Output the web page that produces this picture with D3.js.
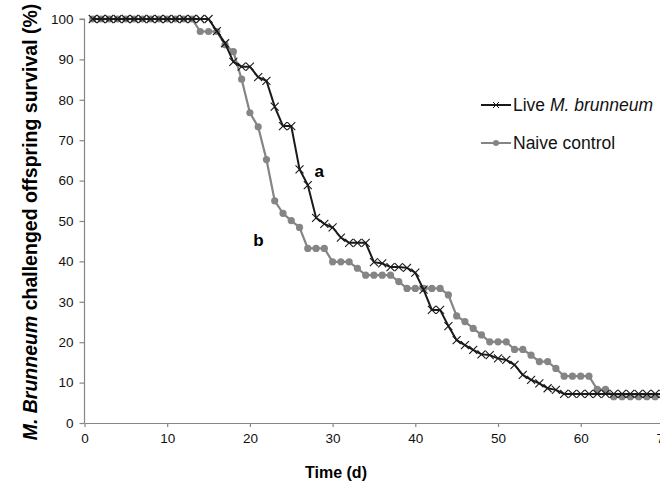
<!DOCTYPE html>
<html>
<head>
<meta charset="utf-8">
<script src="https://cdn.jsdelivr.net/npm/d3@7"></script>
<style>
  html, body { margin: 0; padding: 0; background: #fff; }
  svg { display: block; font-family: "Liberation Sans", Arial, sans-serif; }
</style>
</head>
<body>
<svg id="chart" width="660" height="484"></svg>
<script>
// Days 1..70
const days = d3.range(1, 71);
const liveValues = [
  100,100,100,100,100,100,100,100,100,100,
  100,100,100,100,100, 97, 94, 89.4, 88.2, 88.2,
  85.6, 84.7, 78.3, 73.5, 73.5, 62.8, 58.9, 50.8, 49.3, 48.4,
  45.9, 44.6, 44.6, 44.6, 39.8, 39.5, 38.6, 38.6, 38.4, 37.2,
  33, 28, 28, 24, 20.5, 19.3, 18.1, 17, 16.8, 16,
  15.6, 14.4, 11.9, 10.7, 9.8, 8.6, 8.2, 7.2, 7.2, 7.2,
  7.2, 7.2, 7.2, 7.2, 7.2, 7.2, 7.2, 7.2, 7.2, 7.2
];
const naiveValues = [
  100,100,100,100,100,100,100,100,100,100,
  100,100,100, 96.9, 96.9, 96.9, 93.6, 91.9, 85.1, 76.8,
  73.3, 65.2, 55, 51.9, 50.1, 48.4, 43.2, 43.2, 43.2, 39.9,
  39.9, 39.9, 38.3, 36.6, 36.6, 36.6, 36.6, 35, 33.3, 33.3,
  33.3, 33.3, 33.3, 31.7, 26.5, 25.1, 23.4, 21.8, 20.1, 20.1,
  20.1, 18.2, 18.2, 16.8, 15.2, 15.2, 13.5, 11.6, 11.6, 11.6,
  11.6, 8.3, 8.3, 6.5, 6.5, 6.5, 6.5, 6.5, 6.5, 6.5
];
const xTicks = [0, 10, 20, 30, 40, 50, 60, 70];
const yTicks = [0, 10, 20, 30, 40, 50, 60, 70, 80, 90, 100];

const svg = d3.select("#chart");
const x = d3.scaleLinear().domain([0, 70]).range([84.5, 663.4]);
const y = d3.scaleLinear().domain([0, 100]).range([423, 19]);
const axisColor = "#868686";

// Y axis
const yAxis = svg.append("g")
  .attr("transform", `translate(${x(0)},0)`)
  .call(d3.axisLeft(y).tickValues(yTicks).tickSize(5).tickPadding(6));
// X axis
const xAxis = svg.append("g")
  .attr("transform", `translate(0,${y(0)})`)
  .call(d3.axisBottom(x).tickValues(xTicks).tickSize(4).tickSizeOuter(0).tickPadding(6));
[yAxis, xAxis].forEach(g => {
  g.select(".domain").attr("stroke", axisColor).attr("stroke-width", 1.2);
  g.selectAll(".tick line").attr("stroke", axisColor).attr("stroke-width", 1.2);
  g.selectAll(".tick text").attr("fill", "#111").style("font-size", "13.5px")
    .style("font-family", '"Liberation Sans", Arial, sans-serif');
});
yAxis.select(".domain").attr("d", `M-5,${y(100)}H0V${y(0)}`);

const liveColor = "#1a1a1a";
const naiveColor = "#858585";
const liveData = days.map((d, i) => ({ d, v: liveValues[i] }));
const naiveData = days.map((d, i) => ({ d, v: naiveValues[i] }));
const line = d3.line().x(p => x(p.d)).y(p => y(p.v));

// Naive control (grey circles)
svg.append("path").datum(naiveData).attr("fill", "none")
  .attr("stroke", naiveColor).attr("stroke-width", 2.2).attr("d", line);
svg.append("g").selectAll("circle").data(naiveData).join("circle")
  .attr("cx", p => x(p.d)).attr("cy", p => y(p.v)).attr("r", 3.6)
  .attr("fill", naiveColor);

// Live M. brunneum (black crosses)
svg.append("path").datum(liveData).attr("fill", "none")
  .attr("stroke", liveColor).attr("stroke-width", 2).attr("d", line);
const cs = 4;
svg.append("g").selectAll("path").data(liveData).join("path")
  .attr("d", p => {
    const cx = x(p.d), cy = y(p.v);
    return `M${cx - cs},${cy - cs}L${cx + cs},${cy + cs}M${cx - cs},${cy + cs}L${cx + cs},${cy - cs}`;
  })
  .attr("stroke", liveColor).attr("stroke-width", 1.1).attr("fill", "none");

// Labels a / b
svg.append("text").attr("x", x(27.8)).attr("y", y(60.8)).text("a")
  .style("font-weight", "bold").style("font-size", "17px");
svg.append("text").attr("x", x(20.4)).attr("y", y(43.7)).text("b")
  .style("font-weight", "bold").style("font-size", "17px");

// Legend
const legend = [
  { label: ["Live ", "M. brunneum"], color: liveColor, type: "x", ly: 105 },
  { label: ["Naive control"], color: naiveColor, type: "o", ly: 143 }
];
legend.forEach(l => {
  svg.append("line").attr("x1", 481).attr("x2", 511).attr("y1", l.ly).attr("y2", l.ly)
    .attr("stroke", l.color).attr("stroke-width", 2);
  if (l.type === "x") {
    svg.append("path").attr("d", `M${496 - 3},${l.ly - 3}L${496 + 3},${l.ly + 3}M${496 - 3},${l.ly + 3}L${496 + 3},${l.ly - 3}`)
      .attr("stroke", l.color).attr("stroke-width", 1);
  } else {
    svg.append("circle").attr("cx", 496).attr("cy", l.ly).attr("r", 3).attr("fill", l.color);
  }
  const t = svg.append("text").attr("x", 513).attr("y", l.ly + 6).style("font-size", "17.5px").attr("fill", "#111");
  t.append("tspan").text(l.label[0]);
  if (l.label[1]) t.append("tspan").style("font-style", "italic").text(l.label[1]);
});

// Axis titles
svg.append("text").attr("x", 336).attr("y", 478).attr("text-anchor", "middle")
  .style("font-weight", "bold").style("font-size", "16px").text("Time (d)");
const yt = svg.append("text").attr("transform", `translate(37,222) rotate(-90)`)
  .attr("text-anchor", "middle").style("font-weight", "bold").style("font-size", "19.5px");
yt.append("tspan").style("font-style", "italic").text("M. Brunneum");
yt.append("tspan").text(" challenged offspring survival (%)");
</script>
</body>
</html>
